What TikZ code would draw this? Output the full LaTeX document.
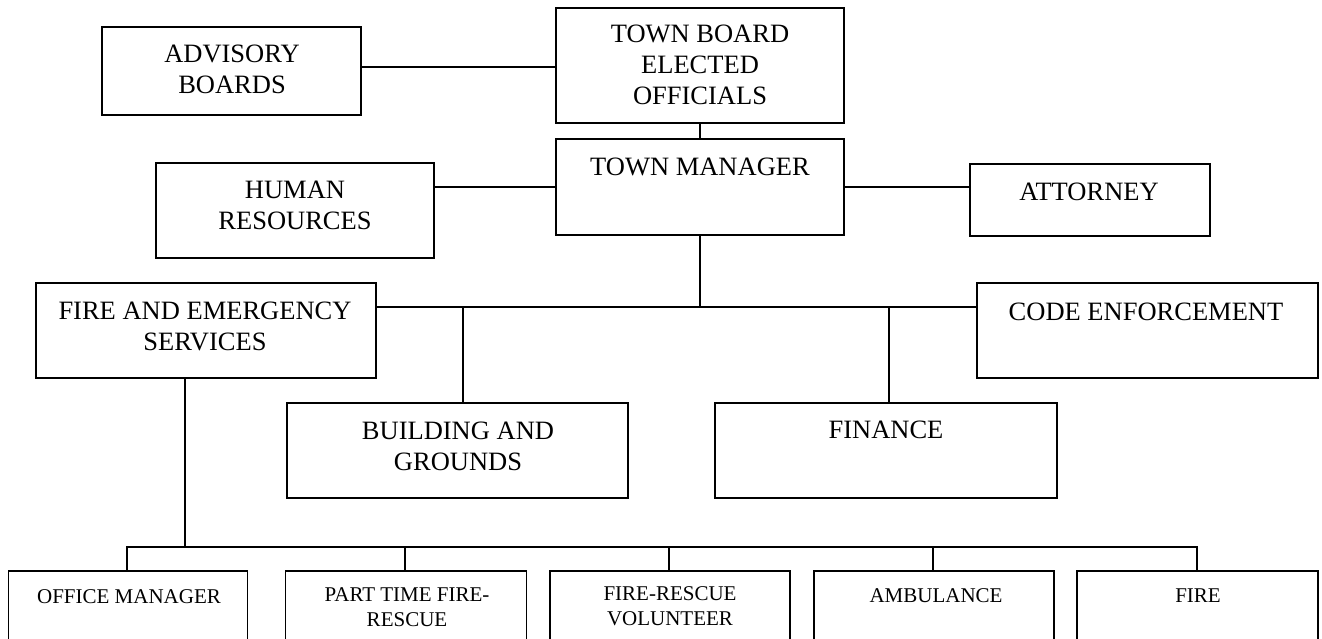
\documentclass[tikz,border=0pt]{standalone}
\usepackage{fontspec}
\setmainfont{Liberation Serif}
\begin{document}
\begin{tikzpicture}[x=1pt,y=-1pt,
  box/.style={draw=black, line width=1.6pt, fill=white, inner sep=0pt},
  big/.style={inner sep=0pt, align=center, font=\fontsize{26.5}{31}\selectfont},
  small/.style={inner sep=0pt, align=center, font=\fontsize{21}{24.5}\selectfont},
  conn/.style={draw=black, line width=1.5pt}]
\useasboundingbox (0,0) rectangle (1322,639);
\clip (0,0) rectangle (1322,639);
% boxes
\node[box, minimum width=259pt, minimum height=88pt]  (adv)  at (231.5,71) {};
\node[box, minimum width=288pt, minimum height=115pt] (tb)   at (700,65.5) {};
\node[box, minimum width=288pt, minimum height=96pt]  (tm)   at (700,187) {};
\node[box, minimum width=278pt, minimum height=95pt]  (hr)   at (295,210.5) {};
\node[box, minimum width=240pt, minimum height=72pt]  (att)  at (1090,200) {};
\node[box, minimum width=340pt, minimum height=95pt]  (fes)  at (206,330.5) {};
\node[box, minimum width=341pt, minimum height=95pt]  (ce)   at (1147.5,330.5) {};
\node[box, minimum width=341pt, minimum height=95pt]  (bg)   at (457.5,450.5) {};
\node[box, minimum width=342pt, minimum height=95pt]  (fin)  at (886,450.5) {};
\node[box, minimum width=239pt, minimum height=90pt]  (om)   at (128,616) {};
\node[box, minimum width=241pt, minimum height=90pt]  (pt)   at (406,616) {};
\node[box, minimum width=240pt, minimum height=90pt]  (frv)  at (670,616) {};
\node[box, minimum width=240pt, minimum height=90pt]  (amb)  at (934,616) {};
\node[box, minimum width=241pt, minimum height=90pt]  (fire) at (1197.5,616) {};
% texts
\node[big] (advt) at (232,69) {ADVISORY\\BOARDS};
\node[big] (tbt)  at (700,65) {TOWN BOARD\\ELECTED\\OFFICIALS};
\node[big] (tmt)  at (700,167) {TOWN MANAGER};
\node[big] (hrt)  at (295,205) {HUMAN\\RESOURCES};
\node[big] (attt) at (1089,192) {ATTORNEY};
\node[big] (fest) at (205,326) {FIRE AND EMERGENCY\\SERVICES};
\node[big] (cet)  at (1146,312) {CODE ENFORCEMENT};
\node[big] (bgt)  at (458,446) {BUILDING AND\\GROUNDS};
\node[big] (fint) at (886,430) {FINANCE};
\node[small] (omt)   at (129,597) {OFFICE MANAGER};
\node[small] (ptt)   at (407,607) {PART TIME FIRE-\\RESCUE};
\node[small] (frvt)  at (670,606) {FIRE-RESCUE\\VOLUNTEER};
\node[small] (ambt)  at (936,596) {AMBULANCE};
\node[small] (firet) at (1198,596) {FIRE};
% bus coordinates
\coordinate (bus) at (tm.south |- 0,307);
\coordinate (fesdown) at (185,547);
% connectors
\draw[conn] (adv.east |- 0,67) -- (tb.west |- 0,67);
\draw[conn] (tb.south) -- (tm.north);
\draw[conn] (hr.east |- 0,187) -- (tm.west |- 0,187);
\draw[conn] (tm.east |- 0,187) -- (att.west |- 0,187);
\draw[conn] (tm.south) -- (bus);
\draw[conn] (fes.east |- bus) -- (ce.west |- bus);
\draw[conn] (bg.north -| 463,0) -- (463,307);
\draw[conn] (fin.north -| 889,0) -- (889,307);
\draw[conn] (fes.south -| fesdown) -- (fesdown);
\draw[conn] (om.north -| 127,0) -- (127,547) -- (1197,547) -- (fire.north -| 1197,0);
\draw[conn] (pt.north -| 405,0) -- (405,547);
\draw[conn] (frv.north -| 669,0) -- (669,547);
\draw[conn] (amb.north -| 933,0) -- (933,547);
\end{tikzpicture}
\end{document}
